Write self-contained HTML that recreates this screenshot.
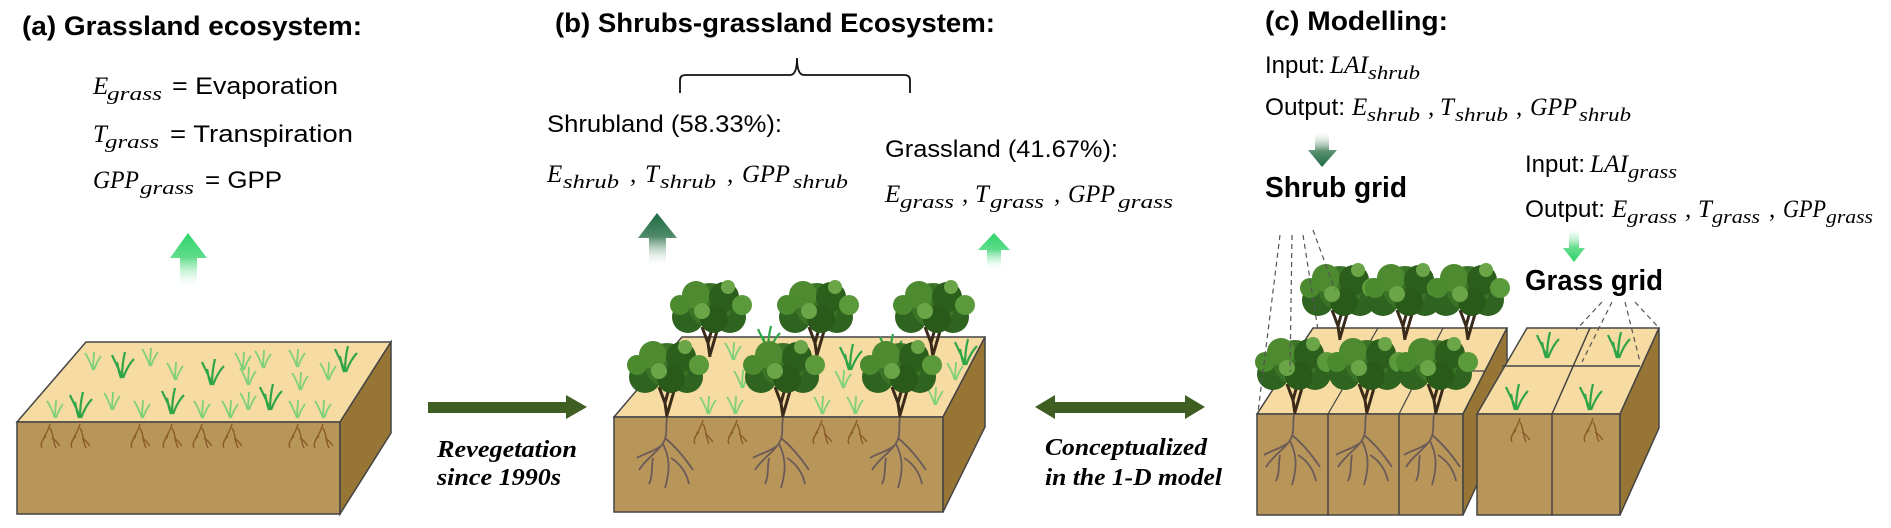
<!DOCTYPE html>
<html><head><meta charset="utf-8"><style>
html,body{margin:0;padding:0;background:#fff;}
svg{display:block;}
.t{font-family:"Liberation Sans",sans-serif;font-weight:bold;font-size:27px;fill:#000;}
.s{font-family:"Liberation Sans",sans-serif;font-size:24px;fill:#000;}
.m{font-family:"Liberation Serif",serif;font-style:italic;font-size:25px;fill:#000;}
.sb{font-family:"Liberation Serif",serif;font-style:italic;font-size:19px;fill:#000;}
.r{font-family:"Liberation Serif",serif;font-style:italic;font-weight:bold;font-size:24px;fill:#000;}
</style></head><body>
<svg width="1891" height="528" viewBox="0 0 1891 528" xmlns="http://www.w3.org/2000/svg">
<defs>
<linearGradient id="gUp" x1="0" y1="0" x2="0" y2="1"><stop offset="0" stop-color="#2fd36a"/><stop offset="0.45" stop-color="#5fdc8a"/><stop offset="1" stop-color="#ffffff" stop-opacity="0.2"/></linearGradient>
<linearGradient id="dUp" x1="0" y1="0" x2="0" y2="1"><stop offset="0" stop-color="#1f6a45"/><stop offset="0.45" stop-color="#4f8a6a"/><stop offset="1" stop-color="#ffffff" stop-opacity="0.2"/></linearGradient>
<linearGradient id="gDn" x1="0" y1="1" x2="0" y2="0"><stop offset="0" stop-color="#2fd36a"/><stop offset="0.45" stop-color="#6ade92"/><stop offset="1" stop-color="#ffffff" stop-opacity="0.2"/></linearGradient>
<linearGradient id="dDn" x1="0" y1="1" x2="0" y2="0"><stop offset="0" stop-color="#1f6a45"/><stop offset="0.45" stop-color="#5a9070"/><stop offset="1" stop-color="#ffffff" stop-opacity="0.2"/></linearGradient>
<g id="tree">
<path d="M0 0 L-2 -14 L-8 -30 M-2 -14 L3 -32 M0 -2 L7 -26" stroke="#3a2a1a" stroke-width="3" fill="none"/>
<circle cx="-22" cy="-40" r="16" fill="#2f6320"/><circle cx="20" cy="-40" r="16" fill="#2f6320"/>
<circle cx="0" cy="-52" r="22" fill="#3b7426"/><circle cx="-14" cy="-62" r="14" fill="#4d8a30"/>
<circle cx="14" cy="-60" r="15" fill="#2c5e1c"/><circle cx="-30" cy="-52" r="10" fill="#4b8a2e"/>
<circle cx="32" cy="-52" r="10" fill="#5b9a3a"/><circle cx="4" cy="-38" r="14" fill="#2a5a1a"/>
<circle cx="-8" cy="-46" r="8" fill="#6aa548"/><circle cx="18" cy="-70" r="7" fill="#6aa548"/>
</g>
<g id="tuft"><path d="M0 0 C-3 -10 -8 -18 -10 -23 M0 0 C0 -10 1 -18 3 -26 M1 0 C4 -8 8 -15 12 -19 M-1 0 C-4 -8 -4 -12 -5 -16" stroke="#2fa548" stroke-width="2.2" fill="none"/></g>
<g id="tuftL"><path d="M0 0 C-3 -8 -5 -13 -8 -17 M0 0 C0 -8 1 -13 1 -18 M1 0 C3 -6 5 -10 8 -14" stroke="#7fd07a" stroke-width="1.8" fill="none"/></g>
<g id="root"><path d="M0 0 C-2 10 2 18 -6 28 C-12 36 -22 42 -28 52 M-4 26 C2 38 4 50 -2 70 M-2 20 C10 30 18 40 26 52 M-6 28 C-14 34 -24 36 -30 40 M4 40 C14 46 20 56 22 66 M-14 40 C-16 50 -14 58 -18 66" stroke="#6b5a58" stroke-width="1.8" fill="none"/></g>
<g id="groot"><path d="M0 0 C-2 8 -6 12 -8 18 M0 4 C4 10 2 16 6 24 M-4 12 C-8 16 -10 20 -8 24 M2 14 C6 16 8 20 10 22" stroke="#8b5a2b" stroke-width="1.4" fill="none"/></g>
</defs>

<!-- Panel a -->
<text class="t" x="22" y="35" textLength="340" lengthAdjust="spacingAndGlyphs">(a) Grassland ecosystem:</text>
<text class="m" x="93" y="94">E</text><text class="sb" x="107" y="100" textLength="55" lengthAdjust="spacingAndGlyphs">grass</text><text class="s" x="172" y="94" textLength="166" lengthAdjust="spacingAndGlyphs">= Evaporation</text>
<text class="m" x="93" y="142">T</text><text class="sb" x="105" y="148" textLength="54" lengthAdjust="spacingAndGlyphs">grass</text><text class="s" x="170" y="142" textLength="183" lengthAdjust="spacingAndGlyphs">= Transpiration</text>
<text class="m" x="93" y="188" textLength="46" lengthAdjust="spacingAndGlyphs">GPP</text><text class="sb" x="140" y="194" textLength="54" lengthAdjust="spacingAndGlyphs">grass</text><text class="s" x="205" y="188" textLength="77" lengthAdjust="spacingAndGlyphs">= GPP</text>
<path d="M188 233 L207 258 L197 258 L197 287 L180 287 L180 258 L170 258 Z" fill="url(#gUp)"/>

<polygon points="86,342 391,342 340,422 17,422" fill="#f6dba3" stroke="#444" stroke-width="1.5"/>
<rect x="17" y="422" width="323" height="92" fill="#b8965a" stroke="#444" stroke-width="1.5"/>
<polygon points="340,422 391,342 391,433 340,514" fill="#977635" stroke="#444" stroke-width="1.5"/>
<g>
<use href="#tuftL" x="93" y="370"/><use href="#tuft" x="122" y="378"/><use href="#tuftL" x="150" y="366"/><use href="#tuftL" x="175" y="380"/>
<use href="#tuft" x="212" y="385"/><use href="#tuftL" x="243" y="370"/><use href="#tuftL" x="263" y="368"/><use href="#tuftL" x="297" y="367"/>
<use href="#tuft" x="345" y="372"/><use href="#tuftL" x="328" y="380"/><use href="#tuftL" x="300" y="390"/><use href="#tuft" x="270" y="410"/>
<use href="#tuftL" x="248" y="385"/><use href="#tuftL" x="55" y="418"/><use href="#tuft" x="80" y="418"/><use href="#tuftL" x="112" y="410"/>
<use href="#tuftL" x="142" y="418"/><use href="#tuft" x="172" y="414"/><use href="#tuftL" x="202" y="418"/><use href="#tuftL" x="230" y="418"/>
<use href="#tuftL" x="297" y="418"/><use href="#tuftL" x="323" y="418"/><use href="#tuftL" x="248" y="410"/>
</g>
<use href="#groot" x="50" y="424"/><use href="#groot" x="80" y="424"/><use href="#groot" x="140" y="424"/><use href="#groot" x="172" y="424"/>
<use href="#groot" x="202" y="424"/><use href="#groot" x="232" y="424"/><use href="#groot" x="298" y="424"/><use href="#groot" x="323" y="424"/>

<!-- Revegetation arrow -->
<polygon points="428,402 566,402 566,395 587,407 566,419 566,413 428,413" fill="#3f5e22"/>
<text class="r" x="437" y="457" textLength="140" lengthAdjust="spacingAndGlyphs">Revegetation</text>
<text class="r" x="437" y="485" textLength="124" lengthAdjust="spacingAndGlyphs">since 1990s</text>

<!-- Panel b -->
<text class="t" x="555" y="32" textLength="440" lengthAdjust="spacingAndGlyphs">(b) Shrubs-grassland Ecosystem:</text>
<path d="M680 93 L680 80 Q680 75 686 75 L790 75 Q797 75 797 58 Q797 75 804 75 L904 75 Q910 75 910 80 L910 93" stroke="#111" stroke-width="1.8" fill="none"/>
<text class="s" x="547" y="132" textLength="235" lengthAdjust="spacingAndGlyphs">Shrubland (58.33%):</text>
<text class="m" x="547" y="182">E</text><text class="sb" x="563" y="188" textLength="56" lengthAdjust="spacingAndGlyphs">shrub</text><text class="m" x="630" y="182">,</text>
<text class="m" x="645" y="182">T</text><text class="sb" x="660" y="188" textLength="56" lengthAdjust="spacingAndGlyphs">shrub</text><text class="m" x="727" y="182">,</text>
<text class="m" x="742" y="182" textLength="48" lengthAdjust="spacingAndGlyphs">GPP</text><text class="sb" x="793" y="188" textLength="55" lengthAdjust="spacingAndGlyphs">shrub</text>
<text class="s" x="885" y="157" textLength="233" lengthAdjust="spacingAndGlyphs">Grassland (41.67%):</text>
<text class="m" x="885" y="202">E</text><text class="sb" x="900" y="208" textLength="54" lengthAdjust="spacingAndGlyphs">grass</text><text class="m" x="962" y="202">,</text>
<text class="m" x="975" y="202">T</text><text class="sb" x="990" y="208" textLength="54" lengthAdjust="spacingAndGlyphs">grass</text><text class="m" x="1054" y="202">,</text>
<text class="m" x="1068" y="202" textLength="47" lengthAdjust="spacingAndGlyphs">GPP</text><text class="sb" x="1118" y="208" textLength="55" lengthAdjust="spacingAndGlyphs">grass</text>
<path d="M657 213 L677 238 L666 238 L666 265 L649 265 L649 238 L638 238 Z" fill="url(#dUp)"/>
<path d="M994 233 L1010 250 L1001 250 L1001 270 L987 270 L987 250 L978 250 Z" fill="url(#gUp)"/>

<polygon points="682,337 985,337 943,417 614,417" fill="#f6dba3" stroke="#444" stroke-width="1.5"/>
<rect x="614" y="417" width="329" height="95" fill="#b8965a" stroke="#444" stroke-width="1.5"/>
<polygon points="943,417 985,337 985,427 943,512" fill="#977635" stroke="#444" stroke-width="1.5"/>
<use href="#tuftL" x="733" y="360"/><use href="#tuft" x="768" y="352"/><use href="#tuft" x="850" y="370"/><use href="#tuft" x="890" y="360"/>
<use href="#tuft" x="965" y="365"/><use href="#tuftL" x="742" y="388"/><use href="#tuftL" x="843" y="388"/><use href="#tuftL" x="955" y="380"/>
<use href="#tuftL" x="708" y="414"/><use href="#tuftL" x="735" y="414"/><use href="#tuftL" x="822" y="414"/><use href="#tuftL" x="855" y="414"/><use href="#tuftL" x="935" y="405"/>
<use href="#tree" x="710" y="357"/><use href="#tree" x="817" y="357"/><use href="#tree" x="933" y="357"/>
<use href="#tree" x="667" y="417"/><use href="#tree" x="783" y="417"/><use href="#tree" x="900" y="417"/>
<use href="#root" x="667" y="418"/><use href="#root" x="783" y="418"/><use href="#root" x="900" y="418"/>
<use href="#groot" x="703" y="420"/><use href="#groot" x="737" y="420"/><use href="#groot" x="822" y="420"/><use href="#groot" x="857" y="420"/>

<!-- Double arrow -->
<polygon points="1035,407 1055,395 1055,402 1185,402 1185,395 1205,407 1185,419 1185,413 1055,413 1055,419" fill="#3f5e22"/>
<text class="r" x="1045" y="455" textLength="162" lengthAdjust="spacingAndGlyphs">Conceptualized</text>
<text class="r" x="1045" y="485" textLength="177" lengthAdjust="spacingAndGlyphs">in the 1-D model</text>

<!-- Panel c -->
<text class="t" x="1265" y="30" textLength="183" lengthAdjust="spacingAndGlyphs">(c) Modelling:</text>
<text class="s" x="1265" y="73" textLength="60" lengthAdjust="spacingAndGlyphs">Input:</text><text class="m" x="1330" y="73" textLength="38" lengthAdjust="spacingAndGlyphs">LAI</text><text class="sb" x="1368" y="79" textLength="52" lengthAdjust="spacingAndGlyphs">shrub</text>
<text class="s" x="1265" y="115" textLength="80" lengthAdjust="spacingAndGlyphs">Output:</text>
<text class="m" x="1352" y="115">E</text><text class="sb" x="1367" y="121" textLength="53" lengthAdjust="spacingAndGlyphs">shrub</text><text class="m" x="1428" y="115">,</text>
<text class="m" x="1440" y="115">T</text><text class="sb" x="1455" y="121" textLength="53" lengthAdjust="spacingAndGlyphs">shrub</text><text class="m" x="1516" y="115">,</text>
<text class="m" x="1530" y="115" textLength="47" lengthAdjust="spacingAndGlyphs">GPP</text><text class="sb" x="1579" y="121" textLength="52" lengthAdjust="spacingAndGlyphs">shrub</text>
<path d="M1322 167 L1337 150 L1329 150 L1329 132 L1315 132 L1315 150 L1308 150 Z" fill="url(#dDn)"/>
<text class="t" x="1265" y="197" textLength="142" lengthAdjust="spacingAndGlyphs" style="font-size:29px">Shrub grid</text>

<text class="s" x="1525" y="172" textLength="60" lengthAdjust="spacingAndGlyphs">Input:</text><text class="m" x="1590" y="172" textLength="38" lengthAdjust="spacingAndGlyphs">LAI</text><text class="sb" x="1628" y="178" textLength="49" lengthAdjust="spacingAndGlyphs">grass</text>
<text class="s" x="1525" y="217" textLength="80" lengthAdjust="spacingAndGlyphs">Output:</text>
<text class="m" x="1612" y="217">E</text><text class="sb" x="1627" y="223" textLength="50" lengthAdjust="spacingAndGlyphs">grass</text><text class="m" x="1685" y="217">,</text>
<text class="m" x="1698" y="217">T</text><text class="sb" x="1712" y="223" textLength="48" lengthAdjust="spacingAndGlyphs">grass</text><text class="m" x="1769" y="217">,</text>
<text class="m" x="1783" y="217" textLength="43" lengthAdjust="spacingAndGlyphs">GPP</text><text class="sb" x="1826" y="223" textLength="47" lengthAdjust="spacingAndGlyphs">grass</text>
<path d="M1574 262 L1585 248 L1579 248 L1579 228 L1569 228 L1569 248 L1563 248 Z" fill="url(#gDn)"/>
<text class="t" x="1525" y="290" textLength="138" lengthAdjust="spacingAndGlyphs" style="font-size:29px">Grass grid</text>

<!-- Shrub grid blocks -->
<polygon points="1313,328 1507,328 1463,414 1257,414" fill="#f6dba3" stroke="#444" stroke-width="1.5"/>
<path d="M1285 371 L1485 371 M1378 328 L1328 414 M1443 328 L1399 414" stroke="#444" stroke-width="1.2" fill="none"/>
<rect x="1257" y="414" width="206" height="101" fill="#b8965a" stroke="#444" stroke-width="1.5"/>
<path d="M1328 414 L1328 515 M1399 414 L1399 515" stroke="#444" stroke-width="1.5"/>
<polygon points="1463,414 1507,328 1507,420 1463,515" fill="#977635" stroke="#444" stroke-width="1.5"/>
<use href="#tree" x="1340" y="340"/><use href="#tree" x="1405" y="340"/><use href="#tree" x="1468" y="340"/>
<use href="#tree" x="1295" y="414"/><use href="#tree" x="1367" y="414"/><use href="#tree" x="1436" y="414"/>
<use href="#root" x="1294" y="415"/><use href="#root" x="1366" y="415"/><use href="#root" x="1434" y="415"/>
<g stroke="#555" stroke-width="1.2" stroke-dasharray="5,4" fill="none">
<path d="M1280 235 L1258 412"/><path d="M1292 235 L1290 372"/><path d="M1303 235 L1318 330"/><path d="M1313 230 L1335 290"/>
</g>

<!-- Grass grid blocks -->
<polygon points="1527,328 1659,328 1620,414 1477,414" fill="#f6dba3" stroke="#444" stroke-width="1.5"/>
<path d="M1502 366 L1640 366 M1590 328 L1552 414" stroke="#444" stroke-width="1.5" fill="none"/>
<rect x="1477" y="414" width="143" height="101" fill="#b8965a" stroke="#444" stroke-width="1.5"/>
<path d="M1552 414 L1552 515" stroke="#444" stroke-width="1.5"/>
<polygon points="1620,414 1659,328 1659,428 1620,515" fill="#977635" stroke="#444" stroke-width="1.5"/>
<use href="#tuft" x="1547" y="358"/><use href="#tuft" x="1618" y="358"/><use href="#tuft" x="1516" y="410"/><use href="#tuft" x="1590" y="410"/>
<use href="#groot" x="1520" y="418"/><use href="#groot" x="1593" y="418"/>
<g stroke="#555" stroke-width="1.2" stroke-dasharray="5,4" fill="none">
<path d="M1602 302 L1576 330"/><path d="M1612 302 L1582 362"/><path d="M1625 302 L1640 362"/><path d="M1635 302 L1659 328"/>
</g>
</svg>
</body></html>
